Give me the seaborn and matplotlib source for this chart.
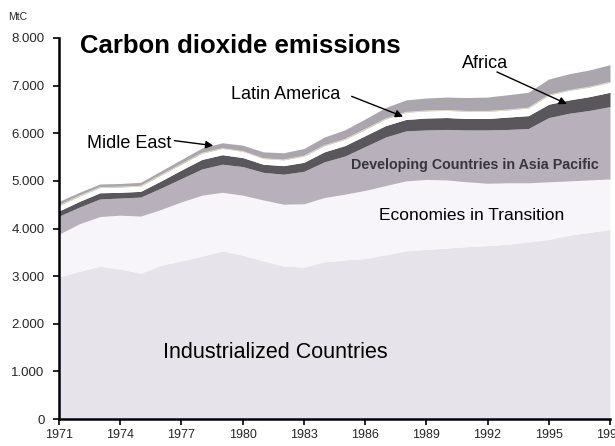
import matplotlib
matplotlib.use("Agg")
import matplotlib.pyplot as plt
import seaborn as sns
import numpy as np

# Annual carbon dioxide emissions by region, MtC
years = list(range(1971, 1999))
industrialized = [2980, 3100, 3210, 3150, 3060, 3230, 3320, 3420, 3530, 3440,
                  3320, 3210, 3190, 3300, 3340, 3370, 3450, 3530, 3560, 3590,
                  3620, 3640, 3670, 3720, 3770, 3860, 3920, 3980]
transition = [900, 1000, 1040, 1130, 1200, 1170, 1240, 1280, 1230, 1260,
              1280, 1300, 1330, 1350, 1380, 1430, 1450, 1470, 1470, 1430,
              1360, 1310, 1290, 1240, 1210, 1140, 1100, 1060]
asia_pacific = [380, 350, 370, 360, 400, 450, 490, 550, 590, 600,
                580, 630, 680, 750, 800, 920, 1020, 1050, 1040, 1060,
                1090, 1120, 1120, 1140, 1350, 1420, 1460, 1520]
africa = [110, 120, 130, 120, 120, 150, 180, 200, 200, 190,
          170, 180, 190, 210, 220, 230, 240, 240, 250, 250,
          240, 240, 260, 270, 280, 280, 290, 300]
latin_america = [110, 110, 110, 110, 110, 120, 120, 130, 130, 130,
                 120, 120, 130, 130, 130, 130, 140, 150, 150, 150,
                 150, 150, 150, 160, 190, 200, 200, 210]
middle_east = [90, 80, 75, 75, 80, 90, 100, 110, 120, 130,
               140, 150, 160, 180, 200, 220, 240, 260, 270, 280,
               290, 300, 320, 330, 340, 350, 360, 370]

y_ticks = [0, 1000, 2000, 3000, 4000, 5000, 6000, 7000, 8000]
y_tick_labels = ["0", "1.000", "2.000", "3.000", "4.000", "5.000", "6.000", "7.000", "8.000"]
x_ticks = list(range(1971, 1999, 3))

sns.set_theme(style="white")
plt.rcParams["font.family"] = ["Liberation Sans", "DejaVu Sans"]

fig = plt.figure(figsize=(6.15, 4.46), dpi=100)
ax = fig.add_axes([59 / 615, 27 / 446, 551 / 615, 381 / 446])

colors = ["#e6e3ea", "#f7f5f9", "#b8b1bb", "#5a575c", "#ffffff", "#aba6ad"]
ax.stackplot(years, industrialized, transition, asia_pacific, africa,
             latin_america, middle_east, colors=colors, linewidth=0)

# faint yellowish rim along the top of the Latin America band
lat_top = (np.array(industrialized) + np.array(transition) + np.array(asia_pacific)
           + np.array(africa) + np.array(latin_america))
sns.lineplot(x=years, y=lat_top, ax=ax, color="#f5f2cf", lw=0.6, alpha=0.8)

ax.set_xlim(1971, 1998)
ax.set_ylim(0, 8000)
ax.set_yticks(y_ticks)
ax.set_yticklabels(y_tick_labels)
ax.set_xticks(x_ticks)
ax.set_xticklabels([str(y) for y in x_ticks])

for side in ["top", "right"]:
    ax.spines[side].set_visible(False)
for side in ["left", "bottom"]:
    ax.spines[side].set_color("black")
    ax.spines[side].set_linewidth(1.8)
ax.tick_params(axis="y", direction="out", length=4.5, width=1.2, color="black",
               pad=6, labelsize=9.5, left=True)
ax.tick_params(axis="x", direction="out", length=4, width=1.2, color="black",
               pad=3.5, labelsize=9, bottom=True)
ax.set_facecolor("white")

fig.text(80 / 615, 1 - 53 / 446, "Carbon dioxide emissions", fontsize=18.5,
         fontweight="bold", color="black", ha="left", va="baseline")
fig.text(8 / 615, 1 - 20 / 446, "MtC", fontsize=7.5, ha="left", va="baseline")

label_kw = dict(color="black", fontsize=13)
ax.text(1976.5, 5700, "Midle East", ha="right", va="baseline", **label_kw)
ax.text(1982.1, 6720, "Latin America", ha="center", va="baseline", **label_kw)
ax.text(1991.9, 7370, "Africa", ha="center", va="baseline", **label_kw)
ax.text(1991.4, 5250, "Developing Countries in Asia Pacific", ha="center",
        va="baseline", fontsize=10.3, fontweight="bold", color="#38353c")
ax.text(1991.2, 4270, "Economies in Transition", ha="center", va="center",
        fontsize=12.5, color="black")
ax.text(1981.6, 1400, "Industrialized Countries", ha="center", va="center",
        fontsize=15.5, color="black")

arrow_kw = dict(arrowstyle="-|>", color="black", lw=1.0, mutation_scale=11,
                shrinkA=0, shrinkB=0)
ax.annotate("", xy=(1978.56, 5740), xytext=(1976.65, 5845), arrowprops=arrow_kw)
ax.annotate("", xy=(1987.86, 6350), xytext=(1985.34, 6775), arrowprops=arrow_kw)
ax.annotate("", xy=(1995.89, 6615), xytext=(1992.46, 7287), arrowprops=arrow_kw)

fig.savefig("out.png", dpi=100)
